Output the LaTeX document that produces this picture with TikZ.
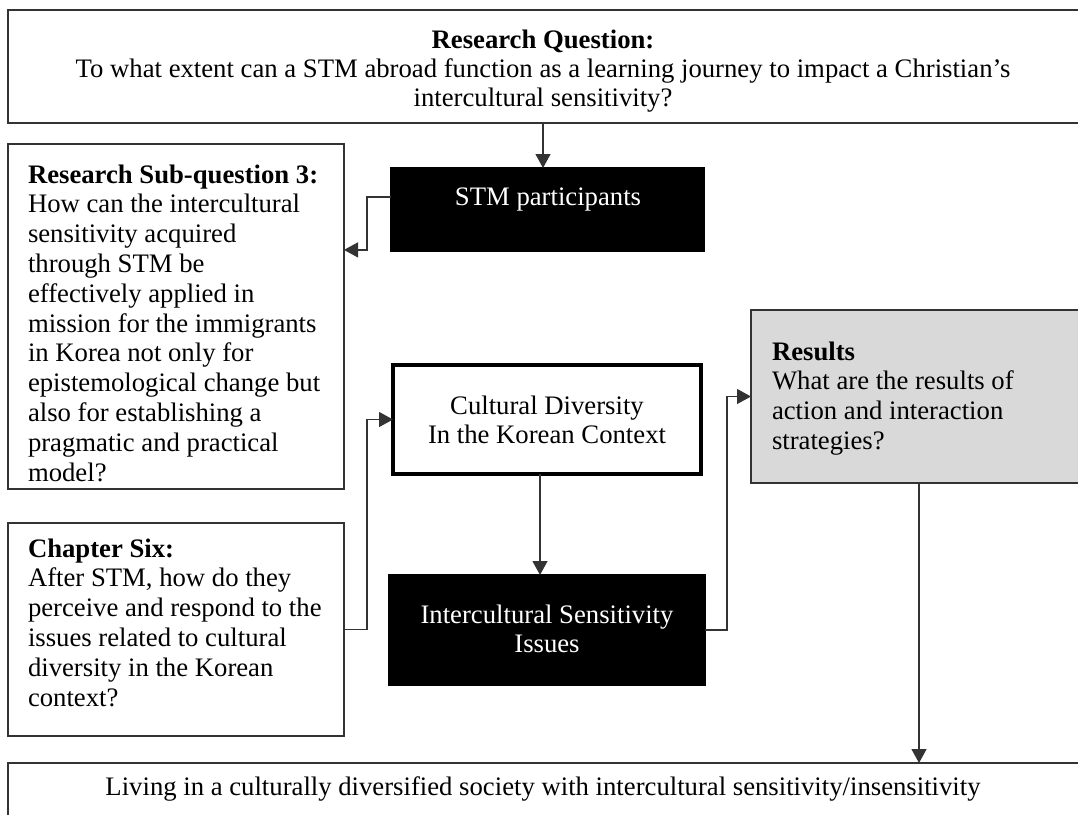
\documentclass[tikz,border=0pt]{standalone}
\usepackage{fontspec}
\setmainfont{Liberation Serif}
\usetikzlibrary{arrows.meta,calc}
\definecolor{edge}{HTML}{333333}
\definecolor{resfill}{HTML}{D9D9D9}

\begin{document}
\begin{tikzpicture}[x=1pt,y=-1pt,
  box/.style={draw=edge,line width=1.2pt,inner sep=0pt,outer sep=0pt,anchor=north west},
  darkbox/.style={box,fill=black,draw=black},
  txt/.style={inner sep=0pt,outer sep=0pt,font=\fontsize{26.7}{29.8}\selectfont},
  arr/.style={draw=edge,line width=1.2pt,-{Triangle[length=14pt,width=15pt]}}]
\useasboundingbox (0,0) rectangle (1078,814);
\clip (0,0) rectangle (1078,814);

% boxes
\node[box,minimum width=1082pt,minimum height=113pt] (topq) at (8,10) {};
\node[box,minimum width=336pt,minimum height=345pt] (subq) at (8,144) {};
\node[box,minimum width=336pt,minimum height=213pt] (chap) at (8,523) {};
\node[darkbox,minimum width=313pt,minimum height=83pt] (stm) at (391,168) {};
\node[box,draw=black,line width=4pt,minimum width=308pt,minimum height=109pt] (cult) at (393,365) {};
\node[darkbox,minimum width=316pt,minimum height=110pt] (iss) at (389,575) {};
\node[box,fill=resfill,minimum width=336pt,minimum height=173pt] (res) at (751,310) {};
\node[box,minimum width=1082pt,minimum height=80pt] (bot) at (8,763) {};

% texts
\node[txt,anchor=base] (topq-t) at (543,48) {\begin{minipage}[t]{1070pt}\centering\fontsize{26.7}{29}\selectfont
  \textbf{Research Question:}\\
  To what extent can a STM abroad function as a learning journey to impact a Christian’s\\
  intercultural sensitivity?\end{minipage}};
\node[txt,anchor=base west] (subq-t) at (28,183) {\begin{minipage}[t]{315pt}\raggedright
  \textbf{Research Sub-question 3:}\\
  How can the intercultural\\
  sensitivity acquired\\
  through STM be\\
  effectively applied in\\
  mission for the immigrants\\
  in Korea not only for\\
  epistemological change but\\
  also for establishing a\\
  pragmatic and practical\\
  model?\end{minipage}};
\node[txt,anchor=base west] (chap-t) at (28,557) {\begin{minipage}[t]{315pt}\raggedright
  \textbf{Chapter Six:}\\
  After STM, how do they\\
  perceive and respond to the\\
  issues related to cultural\\
  diversity in the Korean\\
  context?\end{minipage}};
\node[txt,anchor=base,text=white] (stm-t) at (548,205) {STM participants};
\node[txt,anchor=base] (cult-t) at (547,414) {\begin{minipage}[t]{300pt}\centering
  Cultural Diversity\\
  In the Korean Context\end{minipage}};
\node[txt,anchor=base,text=white] (iss-t) at (547,623) {\begin{minipage}[t]{310pt}\centering
  Intercultural Sensitivity\\
  Issues\end{minipage}};
\node[txt,anchor=base west] (res-t) at (772,360) {\begin{minipage}[t]{300pt}\raggedright
  \textbf{Results}\\
  What are the results of\\
  action and interaction\\
  strategies?\end{minipage}};
\node[txt,anchor=base] (bot-t) at (543,795) {Living in a culturally diversified society with intercultural sensitivity/insensitivity};

% connectors
\draw[arr] ([xshift=-4.5pt]stm.north |- topq.south) -- ([xshift=-4.5pt]stm.north);
\draw[arr] ($(stm.north west)!0.35!(stm.south west)$) -- ++(-24,0) |- ($(subq.north east)!0.307!(subq.south east)$);
\draw[arr] (chap.east) -- ++(23,0) |- (cult.west);
\draw[arr] ([xshift=-7pt]cult.south) -- ([xshift=-7pt]cult.south |- iss.north);
\draw[arr] (iss.east) -- ++(22,0) |- (res.west);
\draw[arr] (res.south) -- (res.south |- bot.north);
\end{tikzpicture}
\end{document}
